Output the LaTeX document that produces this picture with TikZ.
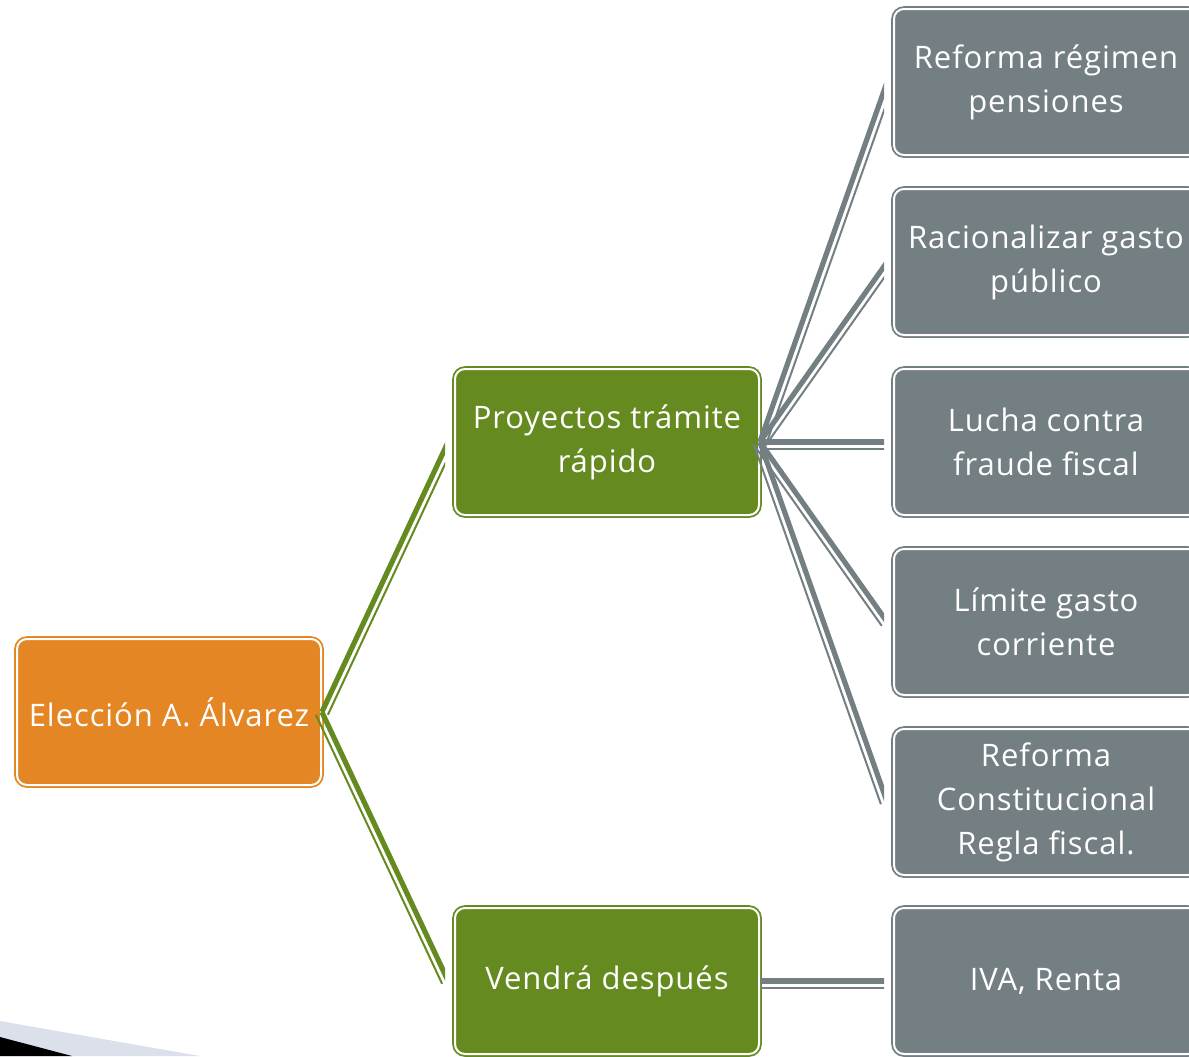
\documentclass[tikz,border=0pt]{standalone}
\usepackage{fontspec}
\newfontfamily\boxfont[LetterSpace=3]{Open Sans}
\usetikzlibrary{calc}
\definecolor{naranja}{HTML}{E58624}
\definecolor{verde}{HTML}{658A1F}
\definecolor{gris}{HTML}{747F84}
\definecolor{sombra}{HTML}{DCE0EA}
\begin{document}
\begin{tikzpicture}[x=0.5pt,y=-0.5pt,
  box/.style={draw=#1, fill=#1, double=white, double distance=1pt,
    line width=0.9pt, rounded corners=5pt, minimum width=152pt,
    minimum height=73pt, inner sep=0pt, align=center, text=white,
    font=\boxfont\fontsize{15.5pt}{22pt}\selectfont},
  link/.style={line width=2.6pt, #1},
  linkthin/.style={line width=1pt, #1}]
  \useasboundingbox (0,0) rectangle (1189,1056);

  % Corner shadow
  \fill[sombra] (0,1021) -- (200,1056) -- (0,1056) -- cycle;
  \fill[black] (0,1037) -- (72,1056) -- (0,1056) -- cycle;

  % Root and branches
  \node[box=naranja] (eleccion) at (169,712) {Elección A. Álvarez};
  \node[box=verde] (rapido) at (607,442) {Proyectos trámite\\rápido};
  \node[box=verde] (despues) at (607,981) {Vendrá después};

  % Leaves
  \node[box=gris] (pensiones) at (1046,82) {Reforma régimen\\pensiones};
  \node[box=gris] (gasto) at (1046,262) {Racionalizar gasto\\público};
  \node[box=gris] (fraude) at (1046,442) {Lucha contra\\fraude fiscal};
  \node[box=gris] (limite) at (1046,622) {Límite gasto\\corriente};
  \node[box=gris] (regla) at (1046,802) {Reforma\\Constitucional\\Regla fiscal.};
  \node[box=gris] (iva) at (1046,981) {IVA, Renta};

  % Connectors: thick line with a thin one beside it, cut off short of the box
  \begin{scope}
  \clip (0,0) rectangle (445,1056);
  \foreach \t in {rapido,despues} {
    \coordinate (fin) at ($(\t.west)+(-6,0)$);
    \draw[link=verde] (eleccion.east) -- (fin);
    \draw[linkthin=verde]
      ($(eleccion.east)!3.3pt!-90:(fin)$) -- ($(fin)!3.3pt!90:(eleccion.east)$);
  }
  \end{scope}
  \begin{scope}
  \clip (700,0) rectangle (884,1056);
  \foreach \t in {pensiones,gasto,fraude,limite,regla} {
    \coordinate (fin) at ($(\t.west)+(-6,0)$);
    \draw[link=gris] (rapido.east) -- (fin);
    \draw[linkthin=gris]
      ($(rapido.east)!3.3pt!-90:(fin)$) -- ($(fin)!3.3pt!90:(rapido.east)$);
  }
  \coordinate (fin) at ($(iva.west)+(-6,0)$);
  \draw[link=gris] (despues.east) -- (fin);
  \draw[linkthin=gris]
    ($(despues.east)!3.3pt!-90:(fin)$) -- ($(fin)!3.3pt!90:(despues.east)$);
  \end{scope}
\end{tikzpicture}
\end{document}
